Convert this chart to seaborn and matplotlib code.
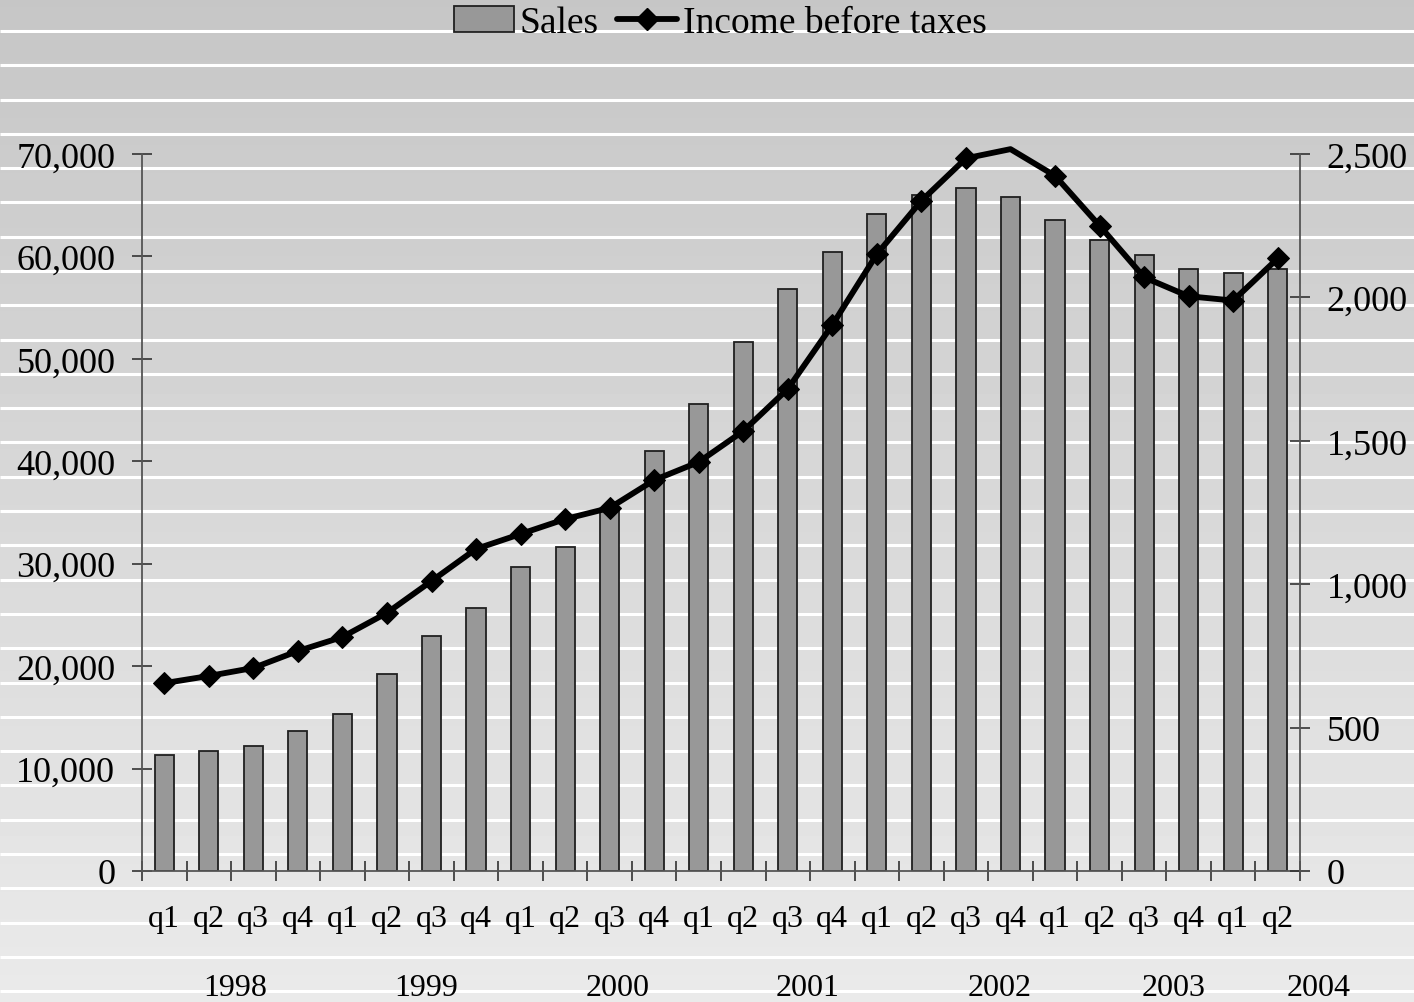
import numpy as np
import pandas as pd
import matplotlib
matplotlib.use("Agg")
import matplotlib.pyplot as plt
from matplotlib.patches import Patch
from matplotlib.lines import Line2D
from matplotlib.ticker import FixedLocator
import matplotlib.transforms as mtransforms
import seaborn as sns

# ---------------- data ----------------
years = ["1998", "1999", "2000", "2001", "2002", "2003", "2004"]
quarter_labels = ["q1", "q2", "q3", "q4", "q1", "q2", "q3", "q4",
                  "q1", "q2", "q3", "q4", "q1", "q2", "q3", "q4",
                  "q1", "q2", "q3", "q4", "q1", "q2", "q3", "q4",
                  "q1", "q2"]
period_year = ["1998"] * 4 + ["1999"] * 4 + ["2000"] * 4 + ["2001"] * 4 + \
              ["2002"] * 4 + ["2003"] * 4 + ["2004"] * 2
sales = [11300, 11700, 12200, 13700, 15300, 19200, 22900, 25700,
         29700, 31600, 35200, 41000, 45600, 51600, 56800, 60400,
         64100, 66000, 66700, 65800, 63600, 61600, 60100, 58800,
         58400, 58800]
income = [655, 680, 708, 767, 816, 900, 1011, 1123,
          1175, 1227, 1266, 1363, 1426, 1534, 1681, 1904,
          2151, 2337, 2485, 2517, 2424, 2250, 2070, 2004,
          1989, 2136]
left_ticks = [0, 10000, 20000, 30000, 40000, 50000, 60000, 70000]
left_ticklabels = ["0", "10,000", "20,000", "30,000", "40,000", "50,000", "60,000", "70,000"]
right_ticks = [0, 500, 1000, 1500, 2000, 2500]
right_ticklabels = ["0", "500", "1,000", "1,500", "2,000", "2,500"]
year_label_pos = [1.59, 5.89, 10.17, 14.45, 18.75, 22.67, 25.92]

df = pd.DataFrame({
    "period": [f"{y} {q}" for y, q in zip(period_year, quarter_labels)],
    "idx": np.arange(len(sales)),
    "sales": sales,
    "income": income,
})

# ---------------- style ----------------
sns.set_style("white")
plt.rcParams["font.family"] = ["Liberation Serif", "DejaVu Serif"]
plt.rcParams["text.color"] = "black"
plt.rcParams["xtick.labelcolor"] = "black"
plt.rcParams["ytick.labelcolor"] = "black"

W, H = 1414, 1003
fig = plt.figure(figsize=(W / 100, H / 100), dpi=100)

# background gradient with white stripes
bg = fig.add_axes([0, 0, 1, 1], zorder=-10)
grad = np.linspace(198, 234, 256).reshape(-1, 1) / 255.0
bg.imshow(np.repeat(grad, 2, axis=1), cmap="gray", vmin=0, vmax=1,
          aspect="auto", extent=[0, W, H, 0], interpolation="bilinear")
stripe_y = 32 + 34.29 * np.arange(29)
bg.hlines(stripe_y, 0, W, colors="white", linewidth=2.2)
bg.set_xlim(0, W)
bg.set_ylim(H, 0)
bg.axis("off")

left, right = 142 / W, 1300 / W
bottom, top = 1 - 872 / H, 1 - 155 / H
ax = fig.add_axes([left, bottom, right - left, top - bottom], zorder=1)
ax.patch.set_visible(False)

bar_color = "#989898"
sns.barplot(data=df, x="period", y="sales", ax=ax, color=bar_color,
            width=0.43, edgecolor="#202020", linewidth=1.3, saturation=1)

ax2 = ax.twinx()
ax2.set_zorder(2)
ax2.patch.set_visible(False)
sns.lineplot(data=df, x="idx", y="income", ax=ax2, color="black",
             linewidth=4.2, marker="D", markersize=11,
             markeredgecolor="black", markerfacecolor="black",
             markevery=[i for i in range(len(income)) if income[i] <= 2500],
             clip_on=False)

ax.set_xlim(-0.5, len(sales) - 0.5)
ax.set_ylim(0, 70000)
ax2.set_ylim(0, 2500)

for a in (ax, ax2):
    a.set_xlabel("")
    a.set_ylabel("")
    for s in a.spines.values():
        s.set_color("#555555")
        s.set_linewidth(1.3)
    a.spines["top"].set_visible(False)

ax.spines["right"].set_visible(False)
ax2.spines["left"].set_visible(False)
ax2.spines["bottom"].set_visible(False)

ax.set_yticks(left_ticks)
ax.set_yticklabels(left_ticklabels, fontsize=26)
ax2.set_yticks(right_ticks)
ax2.set_yticklabels(right_ticklabels, fontsize=26)
ax.tick_params(axis="y", direction="inout", length=14.4, width=1.2,
               color="#333333", pad=12)
ax2.tick_params(axis="y", direction="inout", length=14.4, width=1.2,
                color="#333333", pad=12)

ax.set_xticks(np.arange(len(sales)))
ax.set_xticklabels(quarter_labels, fontsize=23)
ax.xaxis.set_minor_locator(FixedLocator(np.arange(len(sales) + 1) - 0.5))
ax.tick_params(axis="x", which="major", length=0, pad=24)
ax.tick_params(axis="x", which="minor", direction="inout", length=14.4,
               width=1.2, color="#333333", bottom=True)
ax2.tick_params(axis="x", which="both", bottom=False, top=False,
                labelbottom=False, labeltop=False)

trans = mtransforms.blended_transform_factory(ax.transData, fig.transFigure)
for yl, xp in zip(years, year_label_pos):
    ax.text(xp, 1 - 989 / H, yl, transform=trans, ha="center", va="center",
            fontsize=23, clip_on=False)

handles = [Patch(facecolor=bar_color, edgecolor="#202020", linewidth=1.3),
           Line2D([0], [0], color="black", linewidth=4.2, marker="D", markersize=11)]
fig.legend(handles, ["Sales", "Income before taxes"], loc="center",
           bbox_to_anchor=(720 / W, 1 - 24 / H), ncol=2, frameon=False,
           fontsize=27, handlelength=1.6, handletextpad=0.15, columnspacing=0.5,
           borderaxespad=0)

fig.savefig("out.png", dpi=100)
